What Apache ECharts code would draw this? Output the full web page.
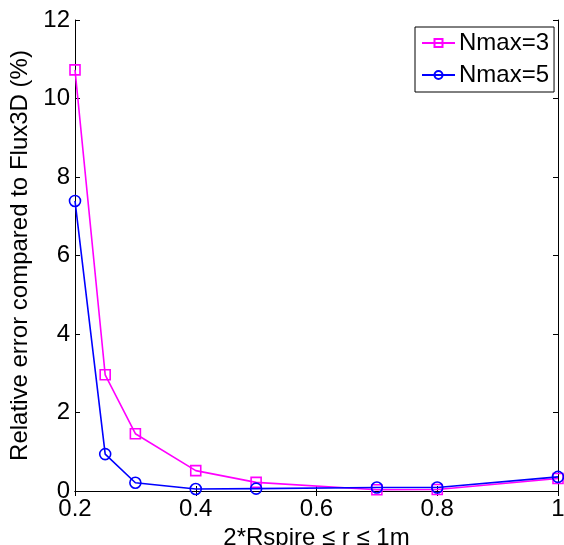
<!DOCTYPE html>
<html>
<head>
<meta charset="utf-8">
<script src="https://cdn.jsdelivr.net/npm/echarts@6/dist/echarts.min.js"></script>
<style>
  html, body { margin: 0; padding: 0; background: #fff; }
  #chart { width: 564px; height: 545px; }
</style>
</head>
<body>
<div id="chart"></div>
<script>
// radius values (x) and relative error (%) for each Nmax setting
const radius = [0.2, 0.25, 0.3, 0.4, 0.5, 0.7, 0.8, 1.0];
const errNmax3 = [10.73, 2.96, 1.46, 0.52, 0.22, 0.03, 0.04, 0.32];
const errNmax5 = [7.39, 0.94, 0.21, 0.05, 0.06, 0.09, 0.09, 0.36];
const seriesNames = ['Nmax=3', 'Nmax=5'];

const font = '"Liberation Sans", Arial, sans-serif';
const chart = echarts.init(document.getElementById('chart'));

const boxAxis = {
  axisLine: { show: true, lineStyle: { color: '#000', width: 1 } },
  axisTick: { show: true, inside: true, length: 5, lineStyle: { color: '#000' } },
  splitLine: { show: false }
};

const pairs = (ys) => radius.map((x, i) => [x, ys[i]]);

chart.setOption({
  animation: false,
  textStyle: { fontFamily: font },
  // fixed plot box, labels may hang outside like in the original figure
  grid: { left: 75, right: 6, top: 20, bottom: 54, outerBoundsMode: 'none' },
  legend: {
    orient: 'vertical',
    left: 415,
    top: 27,
    padding: [4, 5, 5, 6],
    itemGap: 8,
    itemWidth: 33,
    itemHeight: 10,
    borderColor: '#000',
    borderWidth: 1,
    backgroundColor: '#fff',
    textStyle: { fontSize: 24, color: '#000', fontFamily: font, padding: [0, 0, 0, -1] },
    data: seriesNames
  },
  xAxis: [
    Object.assign({
      type: 'value', min: 0.2, max: 1, interval: 0.2,
      name: '2*Rspire \u2264 r \u2264 1m', nameLocation: 'middle', nameGap: 30,
      nameTextStyle: { fontSize: 24, color: '#000' },
      axisLabel: { fontSize: 24, color: '#000', margin: 6,
        formatter: (v) => String(Math.round(v * 10) / 10) }
    }, boxAxis),
    Object.assign({
      type: 'value', position: 'top', min: 0.2, max: 1, interval: 0.2,
      axisLabel: { show: false }
    }, boxAxis)
  ],
  yAxis: [
    Object.assign({
      type: 'value', min: 0, max: 12, interval: 2,
      name: 'Relative error compared to Flux3D (%)', nameLocation: 'middle', nameGap: 38,
      nameTextStyle: { fontSize: 24, color: '#000' },
      axisLabel: { fontSize: 24, color: '#000', margin: 5 }
    }, boxAxis),
    Object.assign({
      type: 'value', position: 'right', min: 0, max: 12, interval: 2,
      axisLabel: { show: false }
    }, boxAxis)
  ],
  series: [
    {
      name: seriesNames[0],
      type: 'line',
      data: pairs(errNmax3),
      symbol: 'rect',
      symbolSize: 10,
      showAllSymbol: true,
      lineStyle: { color: '#ff00ff', width: 1.6 },
      itemStyle: { color: 'rgba(0,0,0,0)', borderColor: '#ff00ff', borderWidth: 1.6 },
      emphasis: { disabled: true },
      z: 2
    },
    {
      name: seriesNames[1],
      type: 'line',
      data: pairs(errNmax5),
      symbol: 'circle',
      symbolSize: 11,
      showAllSymbol: true,
      lineStyle: { color: '#0000ff', width: 1.6 },
      itemStyle: { color: 'rgba(0,0,0,0)', borderColor: '#0000ff', borderWidth: 1.6 },
      emphasis: { disabled: true },
      z: 3
    }
  ]
});
</script>
</body>
</html>
